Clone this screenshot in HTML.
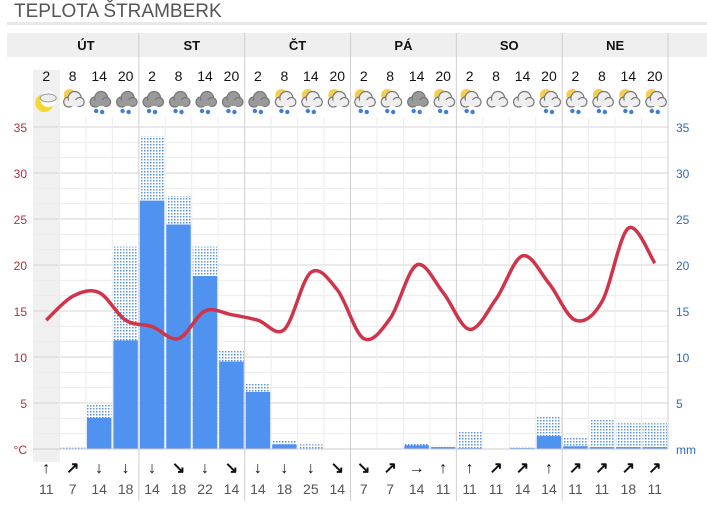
<!DOCTYPE html><html><head><meta charset="utf-8"><style>
body{margin:0;background:#fff;font-family:"Liberation Sans",sans-serif}
</style></head><body>
<svg id="s" width="707" height="501" xmlns="http://www.w3.org/2000/svg" font-family="Liberation Sans, sans-serif"></svg>
<script>
const s=document.getElementById('s');let h='';
const X0=33,W=26.46,Y0=449,K=9.2;
const y=v=>Y0-v*K, cx=i=>X0+W*i+W/2;
h+=`<text x="14" y="17" font-size="19" fill="#555">TEPLOTA ŠTRAMBERK</text>`;
h+=`<rect x="7" y="22" width="700" height="3" fill="#e8e8e8"/>`;
h+=`<rect x="7" y="33" width="700" height="24" fill="#efefef"/>`;
h+=`<rect x="33" y="70" width="27" height="392" fill="#f0f0f0"/>`;
for(let v=0;v<=35;v+=5/3){h+=`<line x1="33" x2="668" y1="${y(v)}" y2="${y(v)}" stroke="#ececec"/>`}
for(let v=5;v<=35;v+=5){h+=`<line x1="33" x2="668" y1="${y(v)}" y2="${y(v)}" stroke="#d6d6d6"/>`;
h+=`<text x="27" y="${y(v)+5}" font-size="12" fill="#b03040" text-anchor="end">${v}</text>`;
h+=`<text x="676" y="${y(v)+5}" font-size="12" fill="#2e6cb0">${v}</text>`}
h+=`<text x="27" y="${Y0+5}" font-size="12" fill="#b03040" text-anchor="end">°C</text>`;
h+=`<text x="676" y="${Y0+5}" font-size="12" fill="#2e6cb0">mm</text>`;
for(let i=1;i<24;i++){if(i%4)h+=`<line x1="${X0+W*i}" x2="${X0+W*i}" y1="117" y2="${Y0}" stroke="#ececec"/>`}
const days=['ÚT','ST','ČT','PÁ','SO','NE'];
for(let d=0;d<6;d++){const x=X0+W*4*d;
if(d>0)h+=`<line x1="${x}" x2="${x}" y1="33" y2="501" stroke="#cfcfcf"/>`;
h+=`<text x="${x+W*2}" y="50" font-size="13" font-weight="bold" text-anchor="middle" fill="#111">${days[d]}</text>`;}
h+=`<line x1="668" x2="668" y1="33" y2="${Y0}" stroke="#cfcfcf"/>`;
const B=[[0,0],[0,.15],[3.4,4.8],[11.8,22],[27,34],[24.4,27.5],[18.8,22],[9.5,10.8],[6.2,7.2],[.5,1],[0,.5],[0,0],[0,0],[0,0],[.4,.6],[.2,.4],[.1,2],[0,0],[.1,.15],[1.4,3.5],[.3,1.3],[.2,3.3],[.2,2.8],[.2,2.8]];
h+=`<defs><pattern id="p" width="3" height="3" patternUnits="userSpaceOnUse"><rect width="3" height="3" fill="#fff"/><rect width="1.5" height="1.5" fill="#5b96e8"/></pattern></defs>`;
B.forEach((b,i)=>{const x=X0+W*i+1;if(b[1]>0)h+=`<rect x="${x}" y="${y(b[1])}" width="${W-2}" height="${b[1]*K}" fill="url(#p)"/>`;
if(b[0]>0)h+=`<rect x="${x}" y="${y(b[0])}" width="${W-2}" height="${b[0]*K}" fill="#4f92f0"/>`;});
h+=`<line x1="33" x2="668" y1="${Y0}" y2="${Y0}" stroke="#ccc"/>`;
const T=[14,16.6,17,14,13.3,12,15,14.6,14,13,19.2,17.3,12,14.2,20,17,13,16.3,21,18,14,16,24,20.2];
let P=T.map((t,i)=>[cx(i),y(t)]);let d=`M${P[0]}`;
for(let i=0;i<P.length-1;i++){const p0=P[i-1]||P[i],p1=P[i],p2=P[i+1],p3=P[i+2]||p2;
d+=` C${p1[0]+(p2[0]-p0[0])/6},${p1[1]+(p2[1]-p0[1])/6} ${p2[0]-(p3[0]-p1[0])/6},${p2[1]-(p3[1]-p1[1])/6} ${p2[0]},${p2[1]}`}
h+=`<path d="${d}" fill="none" stroke="#d0344a" stroke-width="3.5"/>`;
const hr=[2,8,14,20];
const ic='m s r r r r r r r p p n p p R q p c c q p q q q'.split(' ');
for(let i=0;i<24;i++){const x=cx(i);h+=`<text x="${x}" y="81" font-size="14" text-anchor="middle" fill="#111">${hr[i%4]}</text>`;
const t=ic[i];let g='';
if(t=='m')g=`<circle cx="${x-2}" cy="103" r="9" fill="#f5d832"/><circle cx="${x+2}" cy="99" r="8" fill="#fff"/><ellipse cx="${x+2}" cy="98" rx="8" ry="4" fill="#eee" stroke="#999"/>`;
else{const dark=(t=='r'||t=='R');
if('spnq'.includes(t))g+=`<circle cx="${x-3}" cy="95" r="6" fill="#f4c430" opacity=".85"/>`;
const f=dark?'#9a9a9a':'#eee';
g+=`<g fill="${f}" stroke="#777" stroke-width="1.2"><circle cx="${x-4}" cy="102" r="5"/><circle cx="${x+2}" cy="98" r="6.5"/><circle cx="${x+7}" cy="102" r="4.5"/></g><rect x="${x-4}" y="100" width="11" height="6" fill="${f}"/>`;
if('rRpq'.includes(t)){g+=`<circle cx="${x-3}" cy="111" r="2.2" fill="#3b7fd8"/><circle cx="${x+3}" cy="112" r="2.2" fill="#3b7fd8"/>`}}
h+=g;}
const A='↑ ↗ ↓ ↓ ↓ ↘ ↓ ↘ ↓ ↓ ↓ ↘ ↘ ↗ → ↑ ↑ ↗ ↗ ↑ ↗ ↗ ↗ ↗'.split(' ');
const N=[11,7,14,18,14,18,22,14,14,18,25,14,7,7,14,11,11,11,14,14,11,11,18,11];
for(let i=0;i<24;i++){h+=`<text x="${cx(i)}" y="473" font-size="16" font-weight="bold" text-anchor="middle" fill="#111">${A[i]}</text>`;
h+=`<text x="${cx(i)}" y="494" font-size="14" text-anchor="middle" fill="#555">${N[i]}</text>`}
s.innerHTML=h;
</script></body></html>
